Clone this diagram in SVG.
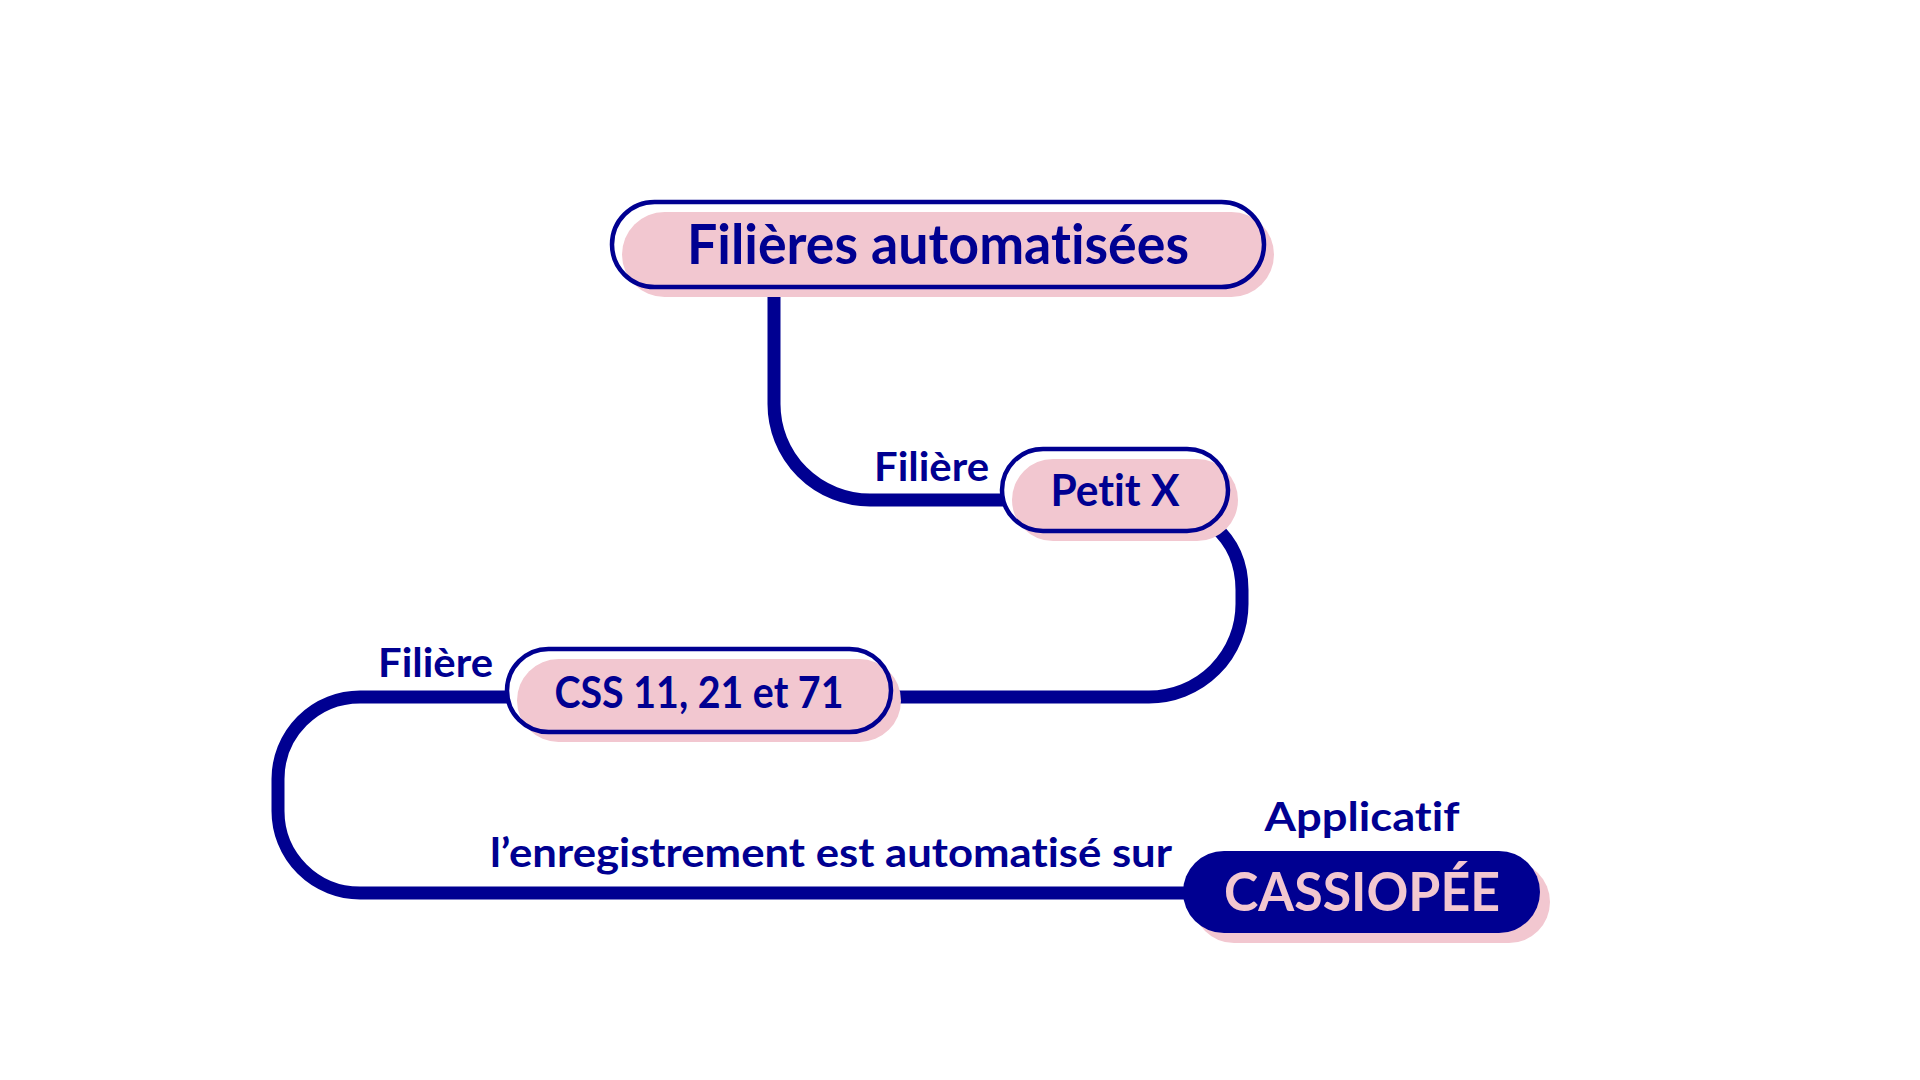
<svg xmlns="http://www.w3.org/2000/svg" width="1920" height="1080" viewBox="0 0 1920 1080">
<style>
.bg{fill:#ffffff}
.con{fill:none;stroke:#000091;stroke-width:13}
.shadow{fill:#F2C7D0}
.outline{fill:none;stroke:#000091;stroke-width:4.5}
.solid{fill:#000091}
text{font-family:Lato,"Noto Sans","Liberation Sans",sans-serif;font-weight:700;fill:#000091;font-variant-ligatures:none;font-feature-settings:"liga" 0,"clig" 0,"dlig" 0}
.pinktext{fill:#F2C7D0}
</style>
<rect class="bg" x="0" y="0" width="1920" height="1080"/>
<g id="connectors">
<path class="con" d="M774,292 V404 A96 96 0 0 0 870,500 H1004"/>
<path class="con" d="M1214,526 C1235,544 1242,566 1242,590 V604 A93 93 0 0 1 1149,697 H896"/>
<path class="con" d="M509,697 H360 A82 82 0 0 0 278,779 V811 A82 82 0 0 0 360,893 H1190"/>
</g>
<g id="node-filieres">
<rect class="shadow" x="622" y="212" width="652" height="85" rx="42.5"/>
<rect class="outline" x="612" y="202" width="652" height="85" rx="42.5"/>
<text x="938" y="264" font-size="55" text-anchor="middle" textLength="502" lengthAdjust="spacingAndGlyphs">Filières automatisées</text>
</g>
<g id="node-petitx">
<text x="989" y="481" font-size="40" text-anchor="end" textLength="115" lengthAdjust="spacingAndGlyphs">Filière</text>
<rect class="shadow" x="1012" y="459" width="226" height="82" rx="41"/>
<rect class="outline" x="1002" y="449" width="226" height="82" rx="41"/>
<text x="1115" y="506" font-size="44" text-anchor="middle" textLength="129" lengthAdjust="spacingAndGlyphs">Petit X</text>
</g>
<g id="node-css">
<text x="493" y="677" font-size="40" text-anchor="end" textLength="115" lengthAdjust="spacingAndGlyphs">Filière</text>
<rect class="shadow" x="517" y="659" width="384" height="83" rx="41.5"/>
<rect class="outline" x="507" y="649" width="384" height="83" rx="41.5"/>
<text x="699" y="708" font-size="44" text-anchor="middle" textLength="289" lengthAdjust="spacingAndGlyphs">CSS 11, 21 et 71</text>
</g>
<g id="node-cassiopee">
<text x="1172" y="867" font-size="40" text-anchor="end" textLength="682" lengthAdjust="spacingAndGlyphs">l’enregistrement est automatisé sur</text>
<text x="1362" y="831" font-size="40" text-anchor="middle" textLength="195" lengthAdjust="spacingAndGlyphs">Applicatif</text>
<rect class="shadow" x="1193" y="861" width="357" height="82" rx="41"/>
<rect class="solid" x="1183" y="851" width="357" height="82" rx="41"/>
<text class="pinktext" x="1362" y="911" font-size="53" text-anchor="middle" textLength="276" lengthAdjust="spacingAndGlyphs">CASSIOPÉE</text>
</g>
</svg>
